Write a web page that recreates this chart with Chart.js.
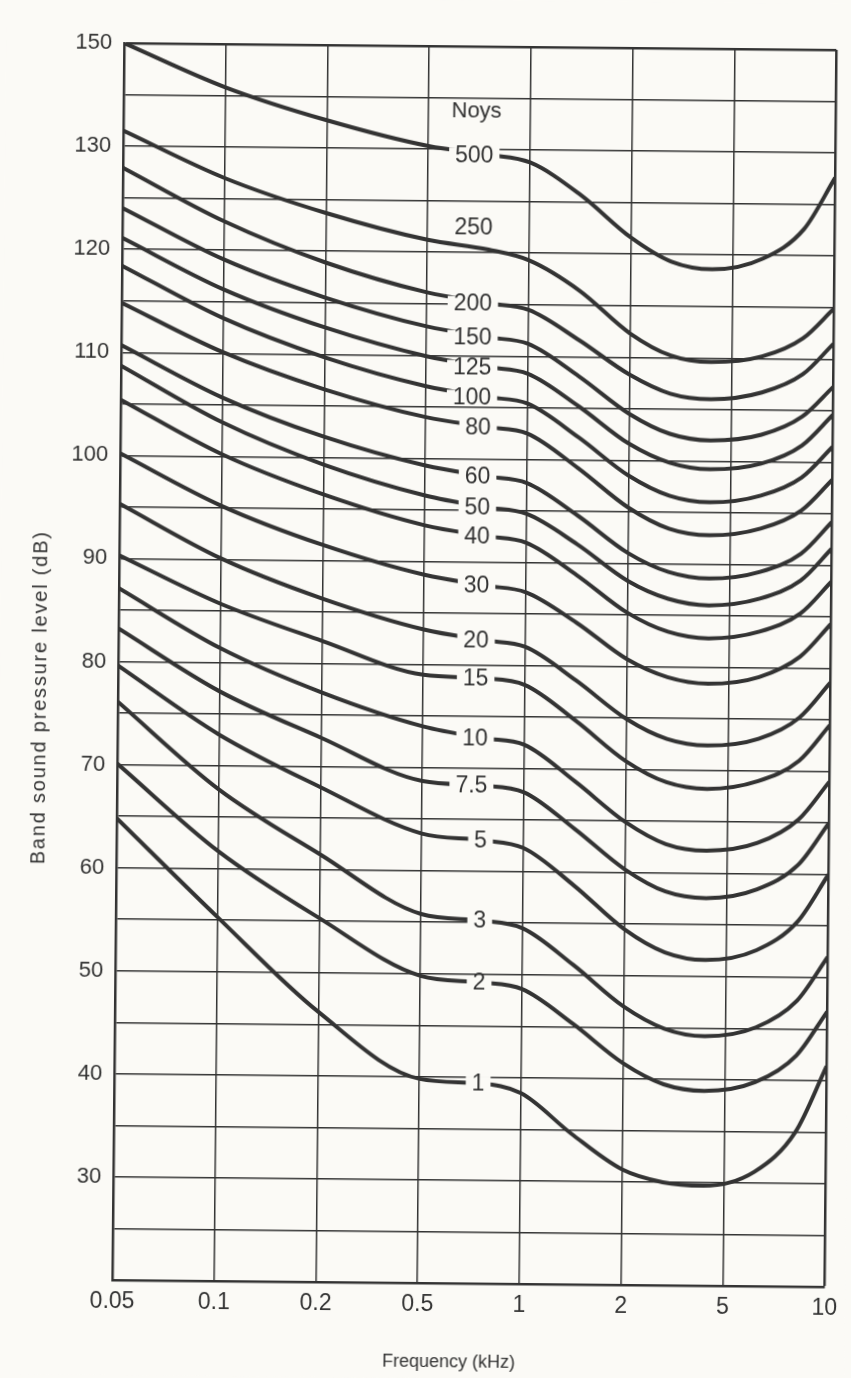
<!DOCTYPE html>
<html>
<head>
<meta charset="utf-8">
<script src="https://cdn.jsdelivr.net/npm/chart.js@4"></script>
<style>
  html, body { margin: 0; padding: 0; background: #fbfaf6; overflow: hidden; }
  #wrap { width: 851px; height: 1378px; transform: rotate(0.55deg); }
</style>
</head>
<body>
<div id="wrap"><canvas id="noyChart" width="851" height="1378"></canvas></div>
<script>
// Equal-noisiness contours: band SPL (dB) against octave-band frequency
const freqLabels = ['0.05', '0.1', '0.2', '0.5', '1', '2', '5', '10'];
const yTickValues = [30, 40, 50, 60, 70, 80, 90, 100, 110, 120, 130, 140];
const yTickText = ['30', '40', '50', '60', '70', '80', '90', '100', '110', '120', '130', '150'];

// sample positions along the frequency axis (0 = 0.05 kHz ... 7 = 10 kHz)
const xPos = [0, 1, 2, 3, 3.6, 4, 4.5, 5, 5.4, 5.8, 6.3, 6.7, 7];

const noy500 = [140, 135.8, 132.7, 130.3, 129.5, 128.8, 125.7, 121.6, 119.3, 118.6, 119.7, 122.6, 127.6];
const noy250 = [131.5, 127.0, 123.7, 121.2, 120.3, 119.3, 116.4, 112.3, 110.2, 109.6, 110.2, 112.0, 114.9];
const noy200 = [127.9, 122.8, 118.9, 116.1, 115.1, 114.5, 111.6, 108.3, 106.5, 106.0, 106.7, 108.5, 111.5];
const noy150 = [124.0, 119.1, 115.5, 112.8, 111.8, 111.2, 108.1, 104.5, 102.6, 102.0, 102.6, 104.4, 107.3];
const noy125 = [121.1, 116.2, 112.6, 109.9, 108.9, 108.3, 105.2, 101.6, 99.8, 99.2, 99.8, 101.6, 104.6];
const noy100 = [118.4, 113.4, 109.7, 107.0, 106.0, 105.4, 102.2, 98.5, 96.6, 96.0, 96.7, 98.5, 101.5];
const noy80 = [114.8, 110.1, 106.6, 104.0, 103.1, 102.5, 99.2, 95.4, 93.4, 92.8, 93.5, 95.3, 98.3];
const noy60 = [110.7, 105.7, 102.0, 99.3, 98.3, 97.7, 94.6, 91.0, 89.2, 88.6, 89.3, 91.1, 94.2];
const noy50 = [108.7, 103.3, 99.3, 96.4, 95.3, 94.7, 91.8, 88.3, 86.6, 86.0, 86.7, 88.5, 91.6];
const noy40 = [105.4, 100.2, 96.4, 93.5, 92.5, 91.9, 88.8, 85.2, 83.4, 82.8, 83.5, 85.3, 88.4];
const noy30 = [100.2, 95.2, 91.5, 88.7, 87.7, 87.1, 84.2, 80.7, 79.0, 78.4, 79.1, 81.1, 84.3];
const noy20 = [95.3, 90.1, 86.3, 83.4, 82.4, 81.8, 78.6, 74.9, 73.0, 72.4, 73.1, 75.2, 78.6];
const noy15 = [90.3, 85.7, 82.2, 79.0, 78.7, 78.1, 74.7, 70.8, 68.8, 68.2, 69.0, 71.0, 74.5];
const noy10 = [87.1, 81.4, 77.2, 74.0, 72.9, 72.3, 68.8, 64.9, 62.8, 62.2, 63.0, 65.3, 69.0];
const noy7_5 = [83.2, 77.2, 72.8, 68.7, 68.3, 67.7, 64.2, 60.3, 58.2, 57.6, 58.5, 60.9, 65.0];
const noy5 = [79.6, 73.0, 68.0, 63.6, 63.0, 62.3, 58.7, 54.5, 52.3, 51.6, 52.6, 55.4, 60.0];
const noy3 = [76.1, 67.7, 61.5, 55.8, 55.2, 54.5, 51.0, 47.0, 44.9, 44.2, 45.1, 47.7, 52.0];
const noy2 = [70.1, 61.7, 55.3, 49.8, 49.2, 48.6, 45.3, 41.5, 39.5, 38.9, 39.8, 42.4, 46.7];
const noy1 = [64.8, 55.3, 46.2, 39.8, 39.4, 38.5, 34.6, 31.2, 30.0, 29.7, 31.1, 35.0, 41.4];

const noyNames = ['500', '250', '200', '150', '125', '100', '80', '60', '50', '40', '30', '20', '15', '10', '7.5', '5', '3', '2', '1'];
const noySeries = [noy500, noy250, noy200, noy150, noy125, noy100, noy80, noy60, noy50, noy40, noy30, noy20, noy15, noy10, noy7_5, noy5, noy3, noy2, noy1];

// where the contour names sit (x index, and dB for the ones placed off the line)
const labelX = 3.64;
const label250Y = 122.4;
const headingY = 133.7;

const paper = '#fbfaf6';
const ink = '#333333';
const fontFamily = '"Liberation Sans", Arial, sans-serif';

const datasets = noySeries.map((spl, i) => ({
  label: noyNames[i] + ' noys',
  data: spl.map((v, k) => ({ x: xPos[k], y: v })),
  borderColor: ink,
  borderWidth: 4,
  pointRadius: 0,
  cubicInterpolationMode: 'monotone',
  fill: false
}));

const paperPlugin = {
  id: 'paper',
  beforeDraw(chart) {
    const ctx = chart.ctx;
    ctx.save();
    ctx.fillStyle = paper;
    ctx.fillRect(0, 0, chart.width, chart.height);
    ctx.restore();
  }
};

// contour names, cut into the lines, plus axis titles
const labelPlugin = {
  id: 'noyLabels',
  afterDatasetsDraw(chart) {
    const { ctx, scales: { x, y } } = chart;
    const px = x.getPixelForValue(labelX);
    ctx.save();
    ctx.font = '23px ' + fontFamily;
    ctx.textBaseline = 'middle';
    ctx.textAlign = 'right';
    noyNames.forEach((name, i) => {
      const w = ctx.measureText(name).width;
      if (name === '250') {
        ctx.fillStyle = ink;
        ctx.fillText(name, px, y.getPixelForValue(label250Y));
        return;
      }
      const py = y.getPixelForValue(noySeries[i][4]);
      ctx.fillStyle = paper;
      ctx.fillRect(px - w - 6, py - 7, w + 12, 14);
      ctx.fillStyle = ink;
      ctx.fillText(name, px, py + 1);
    });
    ctx.textAlign = 'center';
    ctx.font = '22px ' + fontFamily;
    ctx.fillText('Noys', x.getPixelForValue(3.47), y.getPixelForValue(headingY));
    ctx.restore();
  },
  afterDraw(chart) {
    const ctx = chart.ctx;
    ctx.save();
    ctx.fillStyle = ink;
    ctx.font = '18px ' + fontFamily;
    ctx.textAlign = 'center';
    ctx.textBaseline = 'middle';
    ctx.fillText('Frequency (kHz)', 455, 1362);
    ctx.translate(40, 701);
    ctx.rotate(-Math.PI / 2);
    ctx.letterSpacing = '1.8px';
    ctx.font = '20px ' + fontFamily;
    ctx.fillText('Band sound pressure level (dB)', 0, 0);
    ctx.restore();
  }
};

new Chart(document.getElementById('noyChart'), {
  type: 'line',
  data: { datasets },
  plugins: [paperPlugin, labelPlugin],
  options: {
    responsive: false,
    devicePixelRatio: 1,
    animation: false,
    layout: { padding: { left: 0, top: 46, right: 9, bottom: 0 } },
    plugins: { legend: { display: false }, tooltip: { enabled: false } },
    scales: {
      x: {
        type: 'linear',
        min: 0,
        max: 7,
        afterFit: (scale) => { scale.height = 95; },
        afterBuildTicks: (scale) => { scale.ticks = freqLabels.map((_, i) => ({ value: i })); },
        ticks: {
          color: ink,
          padding: 8,
          maxRotation: 0,
          font: { family: fontFamily, size: 23 },
          callback: (v) => freqLabels[v]
        },
        grid: {
          color: ink,
          drawTicks: false,
          lineWidth: (c) => (c.tick && c.tick.value === 7 ? 2.5 : 1.5)
        },
        border: { color: ink, width: 2.5 }
      },
      y: {
        type: 'linear',
        min: 20,
        max: 140,
        afterFit: (scale) => { scale.width = 118; },
        ticks: {
          stepSize: 5,
          color: ink,
          padding: 12,
          font: { family: fontFamily, size: 22 },
          callback: (v) => {
            const k = yTickValues.indexOf(v);
            return k >= 0 ? yTickText[k] : '';
          }
        },
        grid: {
          color: ink,
          drawTicks: false,
          lineWidth: (c) => (c.tick && c.tick.value === 140 ? 2.5 : 1.5)
        },
        border: { color: ink, width: 2.5 }
      }
    }
  }
});
</script>
</body>
</html>
